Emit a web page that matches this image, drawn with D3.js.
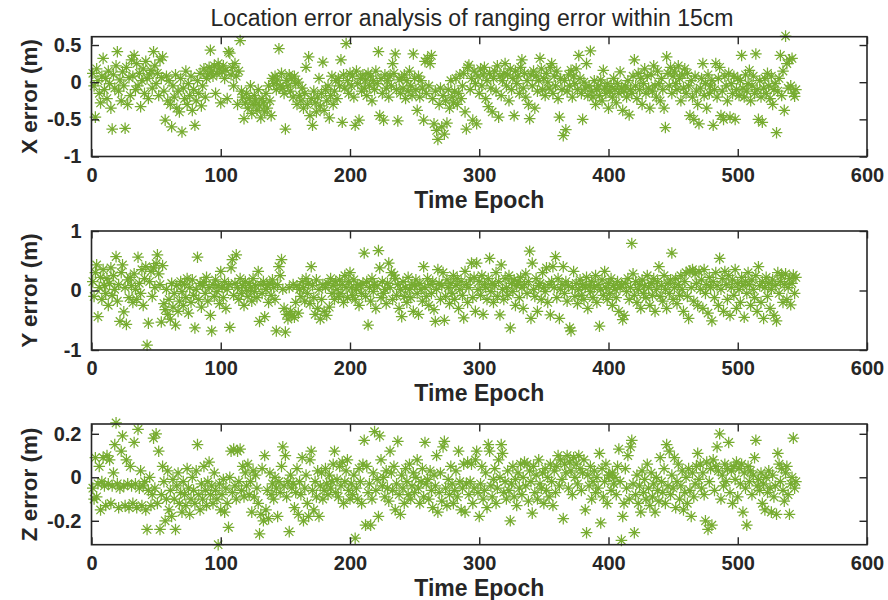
<!DOCTYPE html>
<html>
<head>
<meta charset="utf-8">
<script src="https://cdn.jsdelivr.net/npm/d3@7"></script>
<style>
  html, body { margin: 0; padding: 0; background: #fff; }
  svg { display: block; }
  text { font-family: "Liberation Sans", Arial, Helvetica, sans-serif; fill: #262626; }
</style>
</head>
<body>
<svg id="chart" width="888" height="600"></svg>
<script>
// Positioning error per time epoch (m), one array per axis
const xErr = [
0.12,-0.05,-0.47,0.18,0.02,-0.15,-0.28,0.08,0.32,-0.10,
0.05,-0.22,0.15,-0.02,-0.35,-0.63,0.10,-0.08,0.22,0.41,
-0.12,0.03,-0.25,0.14,-0.05,-0.62,0.20,-0.30,0.06,-0.18,
0.30,0.08,0.36,-0.10,0.25,-0.05,0.12,-0.33,0.02,0.18,
-0.15,0.28,0.05,-0.22,0.10,0.16,-0.08,0.41,0.22,-0.02,
0.12,-0.18,0.30,0.06,0.34,-0.12,-0.51,0.08,-0.25,0.02,
-0.30,-0.60,-0.05,-0.20,0.10,-0.35,-0.12,-0.40,0.05,-0.67,
-0.08,-0.22,0.15,-0.30,-0.02,-0.18,0.08,-0.38,-0.10,-0.58,
-0.25,0.02,-0.15,0.12,-0.32,-0.05,0.18,-0.20,0.05,0.10,
0.20,0.43,0.15,0.08,0.22,-0.15,0.12,0.25,0.18,-0.28,
0.14,0.22,0.05,0.16,-0.22,0.41,0.39,0.10,0.20,-0.05,
0.25,0.08,-0.30,0.15,0.56,-0.12,-0.20,-0.49,-0.28,-0.15,
-0.35,-0.22,-0.05,-0.42,-0.30,-0.18,-0.25,-0.38,-0.10,-0.32,
-0.48,-0.22,-0.28,-0.40,-0.15,-0.35,-0.05,-0.25,-0.45,0.05,
-0.02,0.08,-0.10,0.03,0.45,-0.05,0.12,-0.08,-0.15,-0.63,
0.02,-0.05,0.10,-0.12,0.05,-0.20,0.08,-0.02,-0.30,0.00,
-0.18,-0.25,-0.08,-0.35,-0.15,0.20,-0.30,0.34,-0.45,-0.22,
-0.58,-0.12,-0.28,-0.40,-0.20,0.05,-0.32,-0.15,0.27,-0.38,
-0.10,-0.25,-0.05,-0.48,-0.18,0.08,-0.30,-0.12,0.02,-0.22,
0.05,-0.05,0.30,-0.54,0.10,-0.08,0.52,0.02,-0.15,0.12,
-0.05,0.08,-0.20,-0.58,0.15,-0.02,-0.51,0.05,-0.12,0.10,
-0.08,0.03,-0.18,0.12,-0.05,0.08,-0.25,0.02,-0.10,0.15,
-0.02,0.41,-0.45,0.05,-0.15,-0.51,0.10,-0.08,0.02,-0.20,
0.08,-0.05,0.25,0.12,0.38,-0.10,-0.52,0.03,-0.15,0.06,
-0.08,0.10,-0.22,0.02,-0.12,0.15,-0.05,-0.18,0.38,0.05,
-0.10,-0.38,0.08,-0.20,0.02,-0.08,-0.51,0.28,-0.15,0.32,
-0.05,0.25,0.36,-0.22,-0.56,-0.12,-0.65,-0.77,-0.30,-0.08,
-0.60,-0.18,-0.70,-0.25,-0.55,-0.10,-0.35,0.02,-0.20,-0.28,
-0.12,0.05,-0.30,-0.15,0.10,-0.22,-0.05,0.12,-0.40,-0.63,
0.20,0.23,-0.10,0.05,-0.51,0.15,-0.02,-0.56,0.08,-0.15,
0.18,-0.05,0.10,0.20,-0.22,0.02,-0.33,0.12,-0.08,-0.40,
0.05,0.15,-0.12,0.22,-0.47,0.08,-0.18,0.02,0.12,0.25,
-0.05,0.10,-0.25,0.18,-0.10,0.05,-0.45,0.15,-0.02,0.08,
-0.15,0.20,0.30,-0.08,0.12,-0.20,0.02,-0.30,-0.49,0.10,
-0.05,0.15,-0.35,0.08,-0.12,0.02,0.32,0.18,-0.10,0.05,
-0.18,0.12,0.00,-0.08,0.20,0.25,-0.15,0.08,-0.05,0.15,
-0.22,-0.47,0.05,-0.10,-0.72,0.02,-0.64,-0.12,0.10,-0.05,
0.16,-0.20,0.08,-0.02,0.18,-0.10,0.36,0.05,-0.15,-0.50,
0.00,-0.08,0.25,-0.18,-0.05,0.42,-0.12,-0.20,0.02,-0.30,
-0.10,-0.05,-0.18,0.03,-0.25,0.16,-0.08,-0.15,-0.02,-0.35,
-0.12,-0.06,-0.20,0.05,-0.10,-0.28,-0.02,-0.15,0.14,-0.08,
-0.38,-0.12,-0.05,-0.20,0.02,-0.44,-0.10,-0.15,0.08,0.30,
-0.05,-0.22,0.12,-0.10,0.05,-0.30,-0.02,0.18,-0.15,0.08,
-0.08,-0.35,0.10,-0.12,0.22,-0.05,-0.20,0.15,-0.02,-0.25,
0.05,-0.10,-0.35,-0.61,0.34,0.12,-0.05,0.20,-0.15,0.08,
0.15,-0.02,-0.10,0.22,0.05,-0.25,0.10,-0.08,0.18,-0.15,
0.12,-0.05,-0.45,0.02,-0.20,-0.50,0.08,-0.12,-0.30,-0.56,
-0.08,0.05,0.25,-0.18,-0.02,-0.35,0.10,-0.15,-0.05,0.02,
-0.58,-0.10,0.25,-0.20,0.05,0.20,-0.45,-0.12,-0.50,0.08,
-0.05,-0.25,0.12,-0.47,-0.02,-0.15,0.08,-0.50,-0.10,0.05,
-0.18,0.02,0.36,-0.08,-0.20,0.10,-0.12,-0.02,0.16,-0.25,
-0.05,0.08,-0.15,0.38,-0.10,-0.50,0.02,-0.20,-0.54,-0.08,
0.05,-0.15,0.12,-0.05,-0.22,0.08,-0.30,-0.10,-0.02,-0.68,
-0.12,0.05,0.36,-0.18,0.15,-0.38,0.62,0.25,-0.08,0.30,
-0.05,0.32,-0.15,-0.19,-0.10
];

const yErr = [
0.15,-0.10,0.30,0.43,-0.44,0.05,0.22,-0.15,0.35,0.08,
-0.05,0.20,-0.25,0.12,0.38,-0.08,0.25,0.02,0.57,-0.18,
0.10,-0.52,0.30,0.43,-0.36,0.05,-0.57,0.18,-0.12,0.22,
0.08,-0.20,0.28,0.02,-0.15,0.56,0.12,-0.05,0.35,-0.25,
0.20,0.40,-0.92,-0.55,0.15,0.32,-0.10,0.38,0.05,0.45,
0.60,0.28,0.10,-0.53,0.42,-0.22,-0.32,0.02,-0.40,-0.15,
-0.48,0.12,-0.28,-0.05,-0.58,0.08,-0.35,-0.18,0.15,-0.02,
-0.25,0.10,-0.12,0.20,-0.38,0.05,-0.20,0.18,-0.08,-0.63,
0.02,0.56,-0.15,0.12,-0.28,0.08,0.15,-0.05,0.22,-0.18,
0.05,-0.42,-0.68,0.10,-0.10,0.18,-0.02,0.08,-0.22,0.32,
0.05,-0.12,0.15,-0.30,0.02,0.10,-0.62,0.38,0.52,-0.08,
0.12,0.60,0.05,-0.15,0.20,-0.05,0.08,-0.25,0.15,0.00,
-0.10,0.12,0.05,-0.18,0.20,-0.02,0.08,-0.12,0.32,-0.52,
0.10,-0.05,0.15,-0.44,0.02,0.08,-0.20,0.12,-0.08,0.18,
0.05,-0.15,-0.68,0.10,0.40,0.25,0.52,0.02,-0.30,-0.70,
-0.40,-0.48,0.05,-0.35,-0.42,0.10,-0.45,-0.20,0.08,-0.38,
0.02,-0.10,0.15,0.05,-0.18,0.20,-0.05,0.12,-0.22,0.40,
0.08,-0.12,-0.40,0.18,-0.30,0.02,-0.48,-0.15,0.10,-0.35,
0.05,-0.42,0.12,-0.28,0.20,-0.05,0.08,-0.15,0.15,0.02,
-0.10,0.18,-0.05,0.10,-0.20,0.25,0.05,-0.12,0.15,0.30,
0.05,-0.08,0.18,-0.15,0.02,0.10,-0.25,0.08,-0.05,0.12,
0.63,-0.10,0.15,-0.58,0.05,-0.18,0.20,-0.02,0.10,-0.30,
0.08,0.67,0.38,-0.12,0.15,-0.05,0.02,-0.22,0.12,0.46,
0.05,0.30,-0.15,0.26,0.20,-0.08,0.10,-0.30,0.02,-0.44,
0.15,-0.10,0.05,-0.20,0.22,0.02,-0.12,0.10,-0.35,0.08,
0.18,-0.05,-0.40,0.12,0.02,-0.18,0.40,0.05,-0.10,0.20,
-0.25,0.10,-0.05,0.15,-0.32,-0.52,0.02,0.35,0.12,-0.15,
0.08,0.30,-0.50,-0.10,0.18,0.05,-0.22,0.12,-0.05,0.25,
-0.15,0.08,0.20,-0.30,0.02,0.15,-0.08,-0.46,0.32,0.10,
-0.20,0.05,0.18,0.46,-0.12,0.22,-0.35,0.46,0.02,0.15,
-0.08,0.25,-0.40,0.10,0.05,-0.15,0.20,0.54,-0.02,0.12,
-0.20,0.08,0.30,-0.10,0.15,-0.41,0.43,0.02,-0.15,0.20,
0.05,-0.08,0.25,-0.63,0.12,-0.02,0.18,-0.25,0.08,0.15,
-0.12,0.22,0.05,-0.30,0.10,0.28,-0.05,0.15,0.66,-0.47,
0.46,0.02,-0.10,0.20,-0.35,0.08,0.12,-0.15,0.30,0.05,
-0.02,0.38,-0.20,0.10,-0.41,0.15,0.40,0.05,0.57,-0.12,
0.20,-0.47,0.02,0.10,0.40,-0.05,0.15,-0.18,0.08,-0.63,
-0.68,0.05,0.32,-0.10,0.12,-0.22,0.02,0.18,-0.08,0.10,
-0.15,0.05,0.22,-0.30,0.08,-0.02,0.15,-0.12,0.05,0.25,
-0.20,0.10,-0.60,0.02,0.18,-0.08,0.32,0.05,-0.15,0.12,
-0.05,0.20,-0.25,0.08,0.02,-0.12,0.15,-0.35,0.05,0.10,
-0.49,-0.42,0.12,-0.02,0.20,-0.15,0.05,0.79,0.28,-0.08,
0.15,-0.20,0.02,0.10,-0.30,0.18,-0.05,0.08,-0.12,0.25,
0.05,-0.25,0.12,-0.08,0.20,-0.35,0.02,0.15,0.40,-0.10,
0.08,-0.18,0.25,0.02,-0.30,0.12,-0.05,0.18,0.63,-0.15,
0.05,0.20,-0.22,0.10,-0.08,0.25,0.02,-0.35,0.15,0.30,
-0.10,-0.47,0.33,0.05,0.35,-0.18,0.28,0.12,-0.25,0.32,
0.02,0.18,-0.30,0.35,-0.05,0.10,-0.38,0.22,0.05,-0.51,
0.15,-0.12,0.30,0.08,-0.25,0.54,0.02,0.20,-0.35,0.32,
0.10,-0.15,0.25,-0.42,0.05,0.18,-0.08,0.35,-0.30,0.12,
0.02,-0.20,0.22,0.08,-0.45,0.15,-0.05,0.30,0.10,-0.25,
0.18,0.02,-0.12,0.25,-0.35,0.40,0.08,-0.20,0.15,-0.47,
0.05,0.22,-0.10,0.12,-0.30,0.02,0.18,-0.42,0.08,-0.51,
0.30,-0.05,0.15,0.25,-0.20,0.10,0.28,-0.15,0.05,0.20,
-0.24,0.12,0.26,-0.05,0.22
];

const zErr = [
-0.05,-0.10,0.09,-0.09,-0.03,0.05,-0.15,-0.02,0.09,-0.04,
-0.13,0.10,-0.03,0.08,-0.12,-0.04,0.02,0.15,0.25,-0.03,
-0.14,-0.05,0.12,0.19,-0.04,-0.13,0.08,-0.03,-0.14,0.05,
-0.04,-0.12,0.16,-0.03,-0.14,0.22,-0.05,0.03,-0.13,-0.04,
-0.02,-0.15,-0.24,-0.06,0.00,-0.13,-0.08,0.18,-0.05,0.20,
-0.12,0.12,-0.24,-0.08,0.05,-0.02,-0.20,-0.10,0.03,-0.15,
-0.06,-0.18,-0.01,-0.10,-0.24,-0.04,0.02,-0.12,-0.07,-0.16,
-0.02,-0.08,-0.13,0.04,-0.05,-0.17,-0.10,0.00,-0.06,-0.12,
0.03,0.15,-0.08,-0.15,-0.03,-0.10,0.05,-0.06,-0.13,-0.02,
0.07,-0.08,-0.04,-0.12,0.02,-0.06,-0.10,-0.31,-0.03,-0.15,
-0.08,-0.01,-0.16,-0.05,-0.12,-0.23,0.00,0.12,-0.07,0.13,
-0.04,-0.10,0.12,-0.02,0.13,-0.06,0.05,-0.09,0.02,-0.04,
0.06,-0.08,-0.02,-0.16,0.03,-0.09,0.01,-0.05,-0.12,-0.26,
-0.17,0.04,-0.20,0.10,-0.15,-0.06,-0.19,0.02,-0.08,-0.03,
-0.10,0.00,-0.05,-0.18,-0.02,-0.07,0.05,0.14,-0.04,0.10,
-0.09,-0.02,-0.25,0.01,-0.05,-0.03,-0.14,-0.07,0.04,-0.17,
-0.02,-0.08,0.09,-0.20,-0.05,0.01,-0.12,-0.18,0.08,0.12,
-0.06,-0.15,-0.02,-0.09,0.03,-0.18,-0.04,0.02,-0.10,-0.06,
0.04,-0.03,-0.08,0.01,-0.05,-0.02,0.06,0.12,-0.07,-0.01,
-0.09,0.05,-0.04,0.07,-0.12,-0.02,0.03,0.08,-0.06,-0.10,
-0.03,-0.08,0.01,-0.28,-0.05,-0.10,0.04,-0.02,-0.12,0.06,
0.17,-0.22,0.05,-0.07,-0.03,-0.22,-0.10,0.02,0.21,-0.06,
-0.01,-0.18,0.19,0.08,-0.04,0.00,-0.09,0.03,-0.05,-0.11,
0.12,0.02,-0.06,0.05,-0.15,-0.03,0.165,-0.08,-0.17,0.01,
-0.05,-0.12,0.04,-0.02,-0.08,0.06,-0.10,-0.04,0.02,-0.07,
0.00,0.08,-0.05,-0.12,-0.02,0.04,-0.09,0.16,-0.03,-0.01,
-0.10,0.03,-0.06,-0.14,0.01,-0.04,0.10,-0.16,-0.07,0.02,
-0.11,0.14,0.165,-0.05,-0.13,-0.01,-0.08,0.05,-0.03,-0.12,
-0.06,0.03,-0.09,0.12,-0.02,-0.15,-0.05,0.06,-0.16,-0.03,
0.07,-0.08,-0.02,0.06,-0.12,-0.05,0.08,0.12,-0.07,-0.18,
-0.03,0.05,-0.10,-0.06,0.02,-0.14,0.15,0.12,-0.04,-0.09,
-0.01,0.04,-0.12,-0.05,0.08,0.00,0.15,0.11,-0.07,-0.02,
-0.10,0.03,-0.06,-0.20,-0.03,0.05,-0.09,-0.01,-0.13,0.02,
-0.05,0.06,-0.08,0.00,0.07,-0.04,0.06,-0.11,0.03,-0.02,
-0.165,0.05,-0.07,0.01,-0.10,0.08,-0.03,-0.05,0.02,-0.12,
0.04,-0.06,0.00,-0.09,0.06,-0.02,-0.13,0.03,-0.07,0.05,
0.10,-0.04,0.08,-0.01,-0.19,0.06,0.02,0.10,-0.05,0.07,
0.03,-0.08,0.09,0.00,0.06,-0.03,0.10,0.04,-0.06,0.02,
0.08,-0.15,-0.255,0.01,-0.04,0.05,-0.10,-0.02,0.03,-0.07,
0.00,-0.05,0.11,-0.21,0.04,-0.09,-0.02,0.06,-0.12,0.01,
0.01,-0.06,0.02,-0.03,0.00,-0.08,0.05,0.13,-0.02,-0.29,
-0.18,-0.12,0.04,-0.05,0.10,-0.10,0.14,0.17,-0.03,-0.255,
-0.08,0.01,-0.12,-0.04,-0.16,0.03,-0.07,-0.01,-0.10,0.06,
-0.05,-0.13,0.02,-0.09,-0.03,-0.16,0.00,-0.06,-0.11,0.09,
-0.02,-0.07,0.04,-0.12,0.15,-0.04,0.12,-0.08,0.01,-0.05,
0.09,-0.14,-0.02,0.06,-0.10,-0.04,0.03,-0.15,-0.07,0.00,
-0.12,0.04,-0.06,-0.18,0.02,-0.09,-0.03,0.05,0.11,-0.01,
0.06,-0.05,0.02,-0.08,-0.20,0.07,-0.24,-0.02,0.04,-0.22,
0.08,-0.06,0.05,0.14,0.03,0.20,-0.10,0.01,-0.04,0.06,
-0.02,0.04,0.16,-0.07,0.03,-0.12,0.05,-0.01,0.07,-0.09,
0.04,-0.03,0.06,-0.16,0.02,-0.05,-0.22,0.05,-0.02,0.03,
-0.08,0.01,0.09,0.17,-0.04,-0.01,-0.06,0.02,-0.12,-0.03,
-0.15,0.00,-0.07,0.03,-0.05,-0.16,0.01,-0.09,-0.04,-0.17,
0.11,0.06,-0.02,0.04,-0.06,-0.11,0.02,0.05,-0.08,-0.17,
-0.03,0.00,0.18,-0.05,-0.02
];

const titleText = "Location error analysis of ranging error within 15cm";
const xLabelText = "Time Epoch";
const xTicks = [0, 100, 200, 300, 400, 500, 600];

const yTicksX = [-1, -0.5, 0, 0.5];
const yTicksY = [-1, 0, 1];
const yTicksZ = [-0.2, 0, 0.2];

const yLabels = ["X error (m)", "Y error (m)", "Z error (m)"];

// ---- layout ----
const svg = d3.select("#chart");
const axisColor = "#262626";
const markColor = "#77AC30";
const left = 91.5, right = 867;
const x = d3.scaleLinear().domain([0, 600]).range([left, right]);

const panels = [
  { data: xErr, label: yLabels[0], domain: [-1, 0.612],    top: 36.7, bottom: 156.5, ticks: yTicksX },
  { data: yErr, label: yLabels[1], domain: [-1, 1],        top: 231,  bottom: 350,   ticks: yTicksY },
  { data: zErr, label: yLabels[2], domain: [-0.31, 0.245], top: 424,  bottom: 544.7, ticks: yTicksZ }
];

const fmt = v => String(v).replace("\u2212", "-");
const tickLen = 7.5;
const tickFont = 20, labelFont = 23;

// asterisk marker (plus + cross)
const r = 5.8, rd = r * 0.72;
const starPath = `M0,${-r}V${r}M${-r},0H${r}M${-rd},${-rd}L${rd},${rd}M${-rd},${rd}L${rd},${-rd}`;

panels.forEach(p => {
  const y = d3.scaleLinear().domain(p.domain).range([p.bottom, p.top]);
  const g = svg.append("g");

  // points
  g.append("g")
    .selectAll("path")
    .data(p.data)
    .join("path")
    .attr("d", starPath)
    .attr("transform", (d, i) => `translate(${x(i + 1)},${y(d)})`)
    .attr("fill", "none")
    .attr("stroke", markColor)
    .attr("stroke-width", 1.25);

  // axes with inward ticks on all four sides
  const styleAxis = sel => {
    sel.select(".domain").remove();
    sel.selectAll(".tick line").attr("stroke", axisColor).attr("stroke-width", 1.4);
    sel.selectAll(".tick text")
      .attr("fill", axisColor)
      .style("font-size", tickFont + "px")
      .style("font-weight", "bold")
      .style("font-family", '"Liberation Sans", Arial, sans-serif');
  };

  g.append("g").attr("transform", `translate(0,${p.bottom})`)
    .call(d3.axisBottom(x).tickValues(xTicks).tickSizeInner(-tickLen).tickSizeOuter(0).tickPadding(11).tickFormat(fmt))
    .call(styleAxis);
  g.append("g").attr("transform", `translate(0,${p.top})`)
    .call(d3.axisTop(x).tickValues(xTicks).tickSizeInner(-tickLen).tickSizeOuter(0).tickFormat(""))
    .call(styleAxis);
  g.append("g").attr("transform", `translate(${left},0)`)
    .call(d3.axisLeft(y).tickValues(p.ticks).tickSizeInner(-tickLen).tickSizeOuter(0).tickPadding(10).tickFormat(fmt))
    .call(styleAxis);
  g.append("g").attr("transform", `translate(${right},0)`)
    .call(d3.axisRight(y).tickValues(p.ticks).tickSizeInner(-tickLen).tickSizeOuter(0).tickFormat(""))
    .call(styleAxis);

  // box
  g.append("rect")
    .attr("x", left).attr("y", p.top)
    .attr("width", right - left).attr("height", p.bottom - p.top)
    .attr("fill", "none").attr("stroke", axisColor).attr("stroke-width", 1.6);

  // axis titles
  g.append("text")
    .attr("x", (left + right) / 2)
    .attr("y", p.bottom + 51)
    .attr("text-anchor", "middle")
    .style("font-size", labelFont + "px")
    .style("font-weight", "bold")
    .text(xLabelText);

  g.append("text")
    .attr("transform", `translate(37,${(p.top + p.bottom) / 2}) rotate(-90)`)
    .attr("text-anchor", "middle")
    .style("font-size", "22.5px")
    .style("font-weight", "bold")
    .text(p.label);
});

svg.append("text")
  .attr("x", 472)
  .attr("y", 26)
  .attr("text-anchor", "middle")
  .style("font-size", "23px")
  .text(titleText);
</script>
</body>
</html>
